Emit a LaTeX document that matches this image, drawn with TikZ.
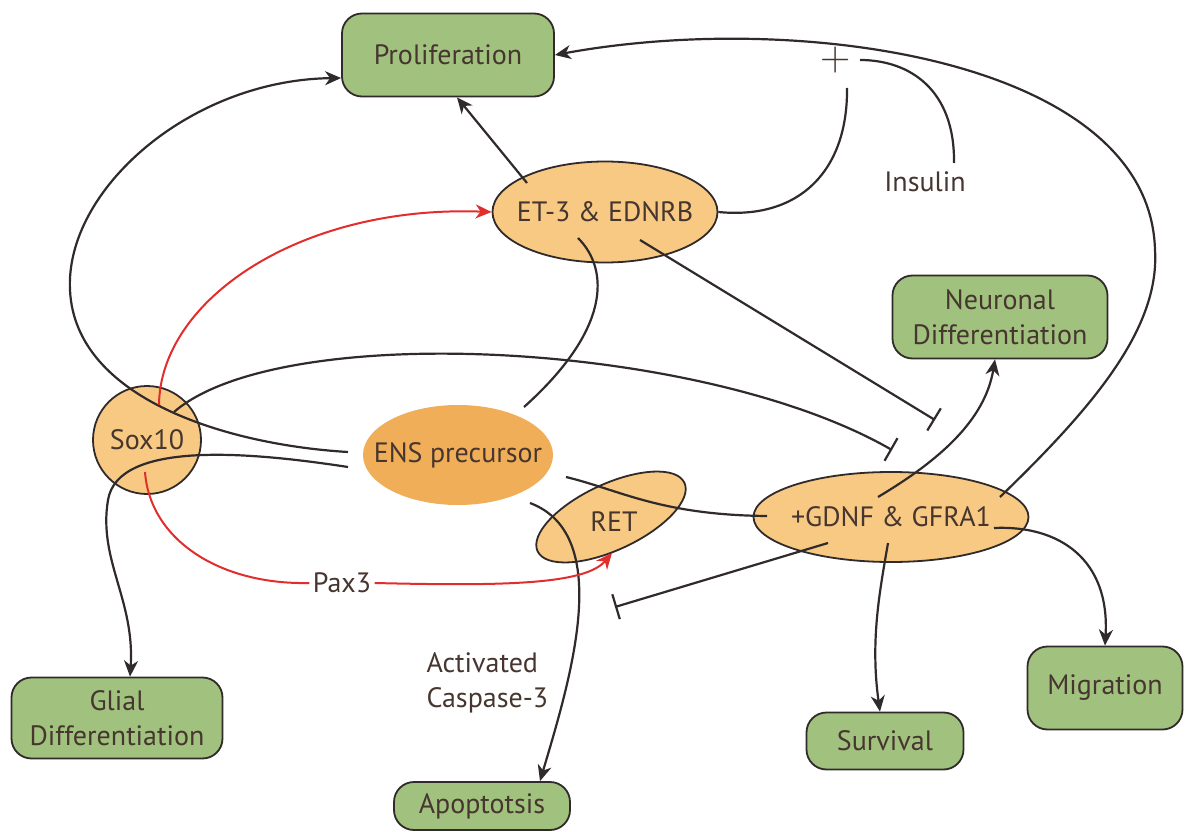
\documentclass[tikz,border=0pt]{standalone}
\usepackage{fontspec}
\setmainfont{PT Sans}
\newfontfamily\lmfont{Latin Modern Roman}
\usetikzlibrary{arrows.meta,shapes.geometric}
\definecolor{boxgreen}{RGB}{161,194,126}
\definecolor{lightorange}{RGB}{248,201,131}
\definecolor{ensorange}{RGB}{241,174,88}
\definecolor{txtcol}{RGB}{70,54,47}
\definecolor{linecol}{RGB}{48,42,42}
\definecolor{redcol}{RGB}{226,45,45}
\begin{document}
\begin{tikzpicture}[x=1pt,y=-1pt,
  every node/.style={text=txtcol, font=\fontsize{28}{35}\selectfont},
  outcome/.style={draw=linecol, line width=1.8pt, fill=boxgreen, rounded corners=20pt, align=center, inner sep=0pt},
  factor/.style={ellipse, draw=linecol, line width=1.8pt, fill=lightorange, inner xsep=-20pt, inner ysep=0pt},
  conn/.style={draw=linecol, line width=2.2pt},
  act/.style={conn, -{Stealth[length=16pt,width=14pt,inset=5pt]}},
  inhib/.style={conn, -{Bar[width=26pt,line width=2.2pt]}},
  redpath/.style={draw=redcol, line width=2pt},
  redact/.style={redpath, -{Stealth[length=16pt,width=14pt,inset=5pt]}}
]
\useasboundingbox (0,0) rectangle (1187,832);
\fill[white] (0,0) rectangle (1187,832);

% nodes
\node[outcome, minimum width=212pt, minimum height=83pt] (prolif) at (448,55) {Proliferation};
\node[factor, minimum width=225pt, minimum height=101pt] (et3) at (605,212) {ET-3 \& EDNRB};
\node[outcome, minimum width=215pt, minimum height=83pt] (neuro) at (1000,317) {Neuronal\\Differentiation};
\node[factor, circle, inner sep=0pt, minimum size=108pt] (sox) at (147,440) {Sox10};
\node[ellipse, fill=ensorange, minimum width=190pt, minimum height=100pt, inner xsep=-20pt, inner ysep=0pt] (ens) at (458,455) {ENS precursor};
\node[factor, minimum width=162pt, minimum height=66pt, rotate=25] (ret) at (611,517) {};
\node (rettext) at (614,522) {RET};
\node[factor, minimum width=275pt, minimum height=90pt] (gdnf) at (891,517) {+GDNF \& GFRA1};
\node[outcome, minimum width=211pt, minimum height=81pt] (glial) at (117,718) {Glial\\Differentiation};
\node[outcome, minimum width=176pt, minimum height=48pt] (apop) at (482,806) {Apoptotsis};
\node[outcome, minimum width=157pt, minimum height=57pt] (surv) at (885,741) {Survival};
\node[outcome, minimum width=155pt, minimum height=83pt] (migr) at (1105,688) {Migration};
\node (pax) at (342,583) {Pax3};
\node[align=left, anchor=west] (casp) at (423,683) {Activated\\Caspase-3};
\node (ins) at (925,182) {Insulin};
\node[font=\lmfont\fontsize{42}{42}\selectfont, inner sep=0pt] (plus) at (836,60) {+};

% connector end points
\coordinate (ensL1) at (348,452);
\coordinate (ensL2) at (348,467);
\coordinate (soxTop) at (159,405);
\coordinate (soxTR) at (174,412);
\coordinate (soxBot) at (145,472);
\coordinate (et3UL) at (527,183);
\coordinate (et3LL) at (578,238);
\coordinate (et3LR) at (640,240);
\coordinate (ensTR) at (524,407);
\coordinate (ensR) at (566,477);
\coordinate (ensBR) at (530,503);
\coordinate (gdnfUL) at (878,497);
\coordinate (gdnfUR) at (1000,497);
\coordinate (gdnfLL) at (828,543);
\coordinate (gdnfB) at (888,543);
\coordinate (gdnfR) at (994,528);
\coordinate (gdnfL) at (767,516);
\coordinate (plusB) at (847,88);
\coordinate (plusR) at (860,60);
\coordinate (insT) at (954,163);
\coordinate (bar1) at (935,420);
\coordinate (bar2) at (892,450);
\coordinate (bar3) at (615,607);
\coordinate (retTip) at (612,553);
\coordinate (arcR) at (1155,250);
\coordinate (arcL) at (70,290);
\coordinate (glialBend) at (108,500);

% connectors
\draw[act] (ensL1) .. controls (230,445) and (75,400) .. (arcL) .. controls (65,190) and (190,80) .. ([yshift=-23pt]prolif.west);
\draw[act] (ensL2) .. controls (250,452) and (118,440) .. (glialBend) .. controls (98,560) and (135,600) .. ([xshift=13pt]glial.north);
\draw[redact] (soxTop) .. controls (160,300) and (300,205) .. (et3.west);
\draw[inhib] (soxTR) .. controls (280,320) and (700,340) .. (bar2);
\draw[inhib] (et3LR) -- (bar1);
\draw[act] (et3UL) -- ([xshift=9pt]prolif.south);
\draw[conn] (et3LL) .. controls (610,270) and (610,330) .. (ensTR);
\draw[conn] (et3.east) .. controls (800,220) and (848,170) .. (plusB);
\draw[conn] (insT) .. controls (955,90) and (910,60) .. (plusR);
\draw[act] (gdnfUR) .. controls (1090,410) and (1160,330) .. (arcR) .. controls (1150,60) and (800,10) .. (prolif.east);
\draw[act] (gdnfUL) .. controls (940,460) and (985,420) .. ([xshift=-5pt]neuro.south);
\draw[conn] (ensR) .. controls (620,490) and (660,515) .. (gdnfL);
\draw[act] (ensBR) .. controls (615,535) and (570,680) .. ([xshift=58pt]apop.north);
\draw[inhib] (gdnfLL) -- (bar3);
\draw[act] (gdnfB) .. controls (880,590) and (870,640) .. ([xshift=-5pt]surv.north);
\draw[act] (gdnfR) .. controls (1060,525) and (1110,560) .. (migr.north);
\draw[redpath] (soxBot) .. controls (150,540) and (220,585) .. (pax.west);
\draw[redact] (pax.east) .. controls (500,586) and (585,585) .. (retTip);
\end{tikzpicture}
\end{document}
